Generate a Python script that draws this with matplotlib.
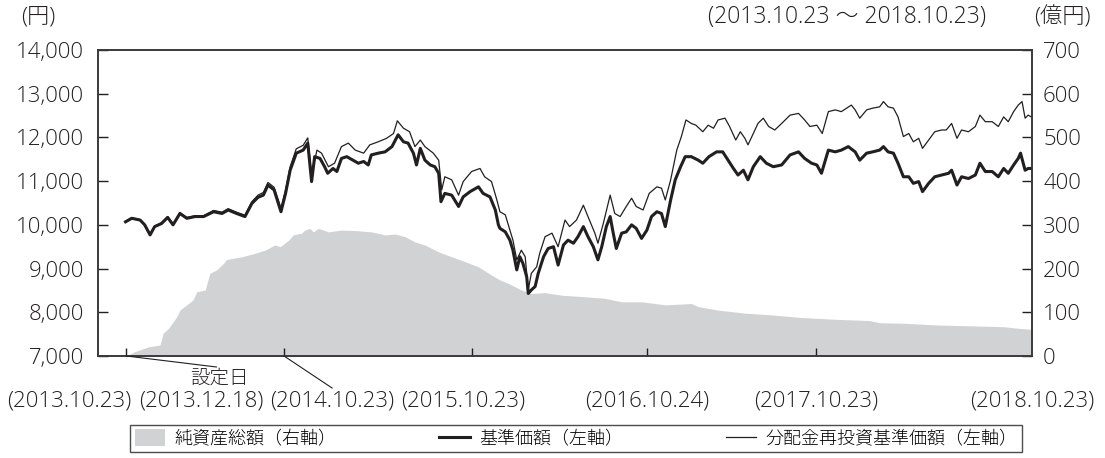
import matplotlib
matplotlib.use("Agg")
import matplotlib.pyplot as plt
from matplotlib.patches import Patch
from matplotlib.lines import Line2D
import matplotlib.transforms as mtrans

plt.rcParams['font.family'] = ['Open Sans', 'Noto Sans CJK JP', 'DejaVu Sans']
plt.rcParams['font.weight'] = 'light'

# x positions are business-day indices counted from 2013.10.23 (0) to 2018.10.23 (1220)
nav_x = [36, 44, 55, 61, 68, 74, 83, 91, 98, 107, 116, 127, 138, 151, 162, 170, 181, 192, 201, 209,
         216, 222, 230, 239, 245, 251, 259, 268, 274, 279, 283, 290, 296, 300, 307, 312, 318, 325, 333,
         340, 347, 353, 357, 366, 375, 384, 392, 399, 405, 412, 416, 421, 427, 434, 440, 445, 448, 453,
         462, 471, 477, 486, 497, 503, 512, 519, 523, 525, 532, 538, 542, 547, 551, 555, 560, 562, 566,
         571, 575, 582, 588, 595, 601, 608, 614, 621, 627, 634, 640, 647, 653, 658, 664, 669, 673, 677,
         684, 690, 697, 703, 710, 717, 723, 730, 736, 741, 748, 754, 761, 767, 775, 784, 790, 798, 808,
         816, 823, 830, 836, 843, 849, 856, 865, 873, 882, 893, 904, 915, 923, 932, 939, 945, 954, 963,
         971, 980, 989, 995, 1004, 1012, 1021, 1026, 1032, 1039, 1045, 1052, 1059, 1065, 1072, 1077,
         1085, 1093, 1102, 1111, 1115, 1122, 1128, 1137, 1146, 1152, 1159, 1168, 1176, 1183, 1189, 1196,
         1202, 1205, 1211, 1215, 1219]
nav_price = [10070, 10150, 10110, 10000, 9770, 9960, 10030, 10170, 10000, 10260, 10150, 10190, 10190,
             10300, 10260, 10340, 10260, 10190, 10490, 10630, 10680, 10910, 10800, 10300, 10720, 11250,
             11640, 11710, 11870, 10990, 11560, 11520, 11330, 11180, 11290, 11220, 11520, 11560, 11480,
             11410, 11450, 11370, 11600, 11640, 11670, 11790, 12060, 11900, 11870, 11640, 11370, 11750,
             11480, 11370, 11330, 11180, 10530, 10720, 10680, 10420, 10640, 10760, 10870, 10720, 10640,
             10340, 10000, 9920, 9840, 9650, 9420, 8970, 9270, 9120, 8810, 8430, 8510, 8590, 8890, 9270,
             9460, 9500, 9080, 9540, 9650, 9580, 9730, 9960, 9730, 9500, 9200, 9500, 9960, 10190, 9810,
             9460, 9810, 9840, 10000, 9920, 9690, 9880, 10190, 10300, 10260, 9960, 10570, 11030, 11330,
             11560, 11560, 11480, 11410, 11560, 11670, 11670, 11480, 11290, 11140, 11250, 11030, 11330,
             11560, 11410, 11330, 11370, 11600, 11670, 11520, 11410, 11370, 11180, 11710, 11670, 11710,
             11790, 11670, 11480, 11640, 11670, 11710, 11790, 11670, 11640, 11410, 11100, 11100, 10950,
             10990, 10760, 10950, 11100, 11140, 11180, 11250, 10910, 11100, 11060, 11140, 11410, 11220,
             11220, 11100, 11290, 11180, 11370, 11520, 11640, 11250, 11290, 11290]

reinv_x = [36, 44, 55, 61, 68, 74, 83, 91, 98, 107, 116, 127, 138, 151, 162, 170, 181, 192, 201, 209,
           216, 222, 230, 239, 245, 251, 259, 268, 274, 279, 286, 292, 301, 309, 318, 327, 336, 347, 355,
           366, 377, 386, 391, 399, 407, 414, 421, 427, 438, 445, 449, 453, 462, 471, 477, 488, 499, 505,
           514, 521, 525, 532, 536, 542, 547, 553, 558, 562, 566, 573, 577, 584, 593, 601, 610, 616, 625,
           634, 640, 649, 653, 660, 669, 675, 682, 690, 697, 703, 712, 720, 730, 736, 741, 748, 756, 762,
           768, 775, 781, 790, 797, 804, 810, 819, 825, 833, 839, 845, 849, 856, 862, 869, 876, 884, 893,
           904, 915, 923, 930, 939, 946, 954, 963, 971, 984, 989, 995, 1004, 1012, 1021, 1026, 1032, 1039,
           1045, 1052, 1059, 1065, 1072, 1077, 1085, 1093, 1102, 1108, 1115, 1122, 1128, 1137, 1146, 1152,
           1159, 1168, 1176, 1183, 1189, 1196, 1202, 1207, 1211, 1215, 1219]
reinv_price = [10080, 10160, 10120, 10010, 9790, 9970, 10050, 10190, 10020, 10280, 10170, 10210, 10210,
               10330, 10290, 10370, 10290, 10220, 10530, 10680, 10740, 10970, 10860, 10380, 10800, 11330,
               11740, 11820, 11990, 11140, 11710, 11640, 11330, 11410, 11790, 11870, 11710, 11640, 11830,
               11900, 11980, 12090, 12380, 12210, 12130, 11790, 11940, 11790, 11640, 11480, 10800, 11100,
               11030, 10680, 10990, 11220, 11290, 11100, 10990, 10570, 10300, 10230, 10000, 9650, 9200,
               9420, 9270, 8510, 8890, 9040, 9350, 9730, 9810, 9500, 10110, 9960, 10110, 10450, 10190,
               9810, 9580, 10030, 10680, 10260, 10190, 10420, 10610, 10420, 10340, 10720, 10870, 10840,
               10570, 11030, 11710, 12020, 12400, 12320, 12280, 12130, 12280, 12210, 12400, 12440, 12250,
               11940, 12130, 11980, 11830, 12090, 12320, 12440, 12250, 12170, 12320, 12510, 12550, 12400,
               12250, 12280, 12090, 12590, 12630, 12590, 12740, 12630, 12440, 12630, 12670, 12700, 12820,
               12700, 12670, 12470, 12020, 12090, 11900, 11980, 11750, 11940, 12130, 12170, 12170, 12320,
               11980, 12170, 12130, 12250, 12510, 12360, 12360, 12250, 12470, 12360, 12590, 12740, 12820,
               12440, 12510, 12470]

asset_x = [37, 48, 66, 81, 85, 92, 103, 107, 124, 129, 140, 146, 155, 164, 168, 188, 205, 218, 231, 238,
           249, 255, 266, 270, 277, 281, 288, 301, 318, 336, 357, 375, 388, 401, 414, 427, 445, 462, 479,
           497, 514, 525, 536, 553, 566, 584, 606, 632, 662, 684, 710, 741, 775, 784, 810, 845, 880, 919,
           963, 1008, 1021, 1052, 1095, 1139, 1183, 1204, 1219]
asset_total = [0, 10, 21, 25, 52, 63, 90, 105, 128, 147, 151, 189, 197, 212, 221, 227, 235, 242, 254, 250,
               265, 277, 281, 288, 292, 284, 292, 284, 288, 287, 284, 277, 279, 273, 261, 254, 238, 227,
               216, 204, 185, 174, 166, 151, 143, 145, 139, 136, 132, 124, 124, 117, 120, 113, 105, 98, 94,
               88, 84, 81, 76, 75, 71, 69, 67, 63, 61]

left_ticks = [7000, 8000, 9000, 10000, 11000, 12000, 13000, 14000]
right_ticks = [0, 100, 200, 300, 400, 500, 600, 700]
x_ticks = [37, 243, 489, 717, 938]
x_labels = ['(2013.10.23)', '(2013.12.18)', '(2014.10.23)', '(2015.10.23)',
            '(2016.10.24)', '(2017.10.23)', '(2018.10.23)']
x_label_pos = [-37, 135, 306, 477, 717, 938, 1220]

gray = '#d1d2d4'
ink = '#231f20'
fs = 16
fs_small = 14
fs_leg = 13

fig = plt.figure(figsize=(11.05, 4.58), dpi=100)
ax = fig.add_axes([98/1105, 1-356/458, 934/1105, 306/458])
ax2 = ax.twinx()
ax.set_zorder(ax2.get_zorder() + 1)
ax.patch.set_visible(False)

ax2.fill_between(asset_x, 0, asset_total, color=gray, linewidth=0)
ax.plot(nav_x, nav_price, color=ink, lw=2.2, solid_joinstyle='round')
ax.plot(reinv_x, reinv_price, color=ink, lw=0.9)

ax.set_xlim(0, 1220)
ax.set_ylim(7000, 14000)
ax2.set_ylim(0, 700)

ax.set_yticks(left_ticks)
ax.set_yticklabels([f'{v:,}' for v in left_ticks], fontsize=fs, color=ink)
ax2.set_yticks(right_ticks)
ax2.set_yticklabels([str(v) for v in right_ticks], fontsize=fs, color=ink)
ax.tick_params(axis='y', direction='in', length=7, width=1, color=ink, pad=10)
ax2.tick_params(axis='y', direction='in', length=7, width=1, color=ink, pad=8)
ax.set_xticks(x_ticks)
ax.set_xticklabels([])
ax.tick_params(axis='x', direction='in', length=6, width=1, color=ink)
for a in (ax, ax2):
    for s in a.spines.values():
        s.set_color('#3a3a3a')
        s.set_linewidth(1.2)

trans = mtrans.blended_transform_factory(ax.transData, ax.transAxes)
for lab, xp in zip(x_labels, x_label_pos):
    ax.text(xp, -0.147, lab, transform=trans, ha='center', va='center', fontsize=fs, color=ink,
            clip_on=False)
ax.text(159, -0.075, '設定日', transform=trans, ha='center', va='center', fontsize=fs_small, color=ink)
ax.annotate('', xy=(37, 0), xytext=(155, -0.036), xycoords=trans, textcoords=trans,
            arrowprops=dict(arrowstyle='-', lw=0.8, color=ink, shrinkA=0, shrinkB=0))
ax.annotate('', xy=(243, 0), xytext=(306, -0.105), xycoords=trans, textcoords=trans,
            arrowprops=dict(arrowstyle='-', lw=0.8, color=ink, shrinkA=0, shrinkB=0))

fig.text(38/1105, 1-17/458, '(円)', ha='center', va='center', fontsize=fs, color=ink)
fig.text(847/1105, 1-17/458, '(2013.10.23 ～ 2018.10.23)', ha='center', va='center', fontsize=16.5, color=ink)
fig.text(1062/1105, 1-17/458, '(億円)', ha='center', va='center', fontsize=fs, color=ink)

handles = [Patch(facecolor=gray, edgecolor='none'),
           Line2D([], [], color=ink, lw=2.2),
           Line2D([], [], color=ink, lw=0.9)]
labels = ['純資産総額（右軸）', '基準価額（左軸）', '分配金再投資基準価額（左軸）']
leg = fig.legend(handles, labels, loc='center', ncol=3, mode='expand',
                 bbox_to_anchor=(130/1105, 1-455/458, 892/1105, 33/458),
                 fontsize=fs_leg, frameon=True, fancybox=False, edgecolor=ink,
                 handlelength=1.7, handleheight=1.1, handletextpad=0.5, borderpad=0.25,
                 borderaxespad=0)
leg.get_frame().set_linewidth(1.0)

fig.savefig('out.png', dpi=100)
